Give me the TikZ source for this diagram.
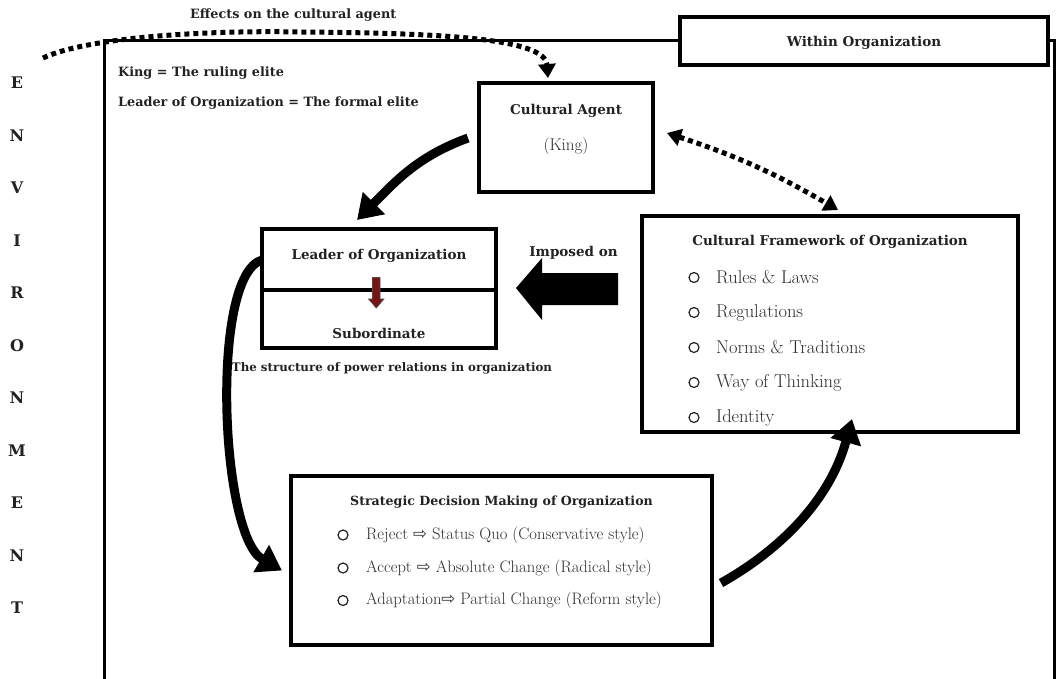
\documentclass[tikz,border=0pt]{standalone}
\usepackage{fontspec}
\setmainfont{DejaVu Serif}
\newfontfamily\lightf{Latin Modern Roman}
\newfontfamily\symf{DejaVu Sans}
\usetikzlibrary{arrows.meta,calc}
\definecolor{txt}{HTML}{222222}
\definecolor{lighttxt}{HTML}{2E2E2E}
\definecolor{darkred}{HTML}{7A1414}
\begin{document}
\begin{tikzpicture}[x=1pt,y=-1pt,
  box/.style={draw=black, line width=3.5pt, fill=white, inner sep=0pt, outer sep=0pt},
  hd/.style={text=txt, font=\bfseries\fontsize{13.5}{16}\selectfont, inner sep=0pt},
  hds/.style={text=txt, font=\bfseries\fontsize{12.8}{15}\selectfont, inner sep=0pt},
  rg/.style={text=lighttxt, font=\lightf\fontsize{18.5}{22}\selectfont, inner sep=0pt, anchor=west},
  rgs/.style={text=lighttxt, font=\lightf\fontsize{16.6}{20}\selectfont, inner sep=0pt, anchor=west},
  bul/.style={circle, draw=txt, line width=1.2pt, minimum size=10pt, inner sep=0pt},
  letter/.style={text=txt, font=\bfseries\fontsize{16}{18}\selectfont, inner sep=0pt},
  bigarrow/.style={line width=9pt, -{Triangle[length=24pt,width=30pt]}},
  dotline/.style={line width=5pt, dash pattern=on 5pt off 4pt},
  dothead/.tip={Triangle[length=14pt,width=17pt]}
]
\useasboundingbox (0,0) rectangle (1057,678);
\fill[white] (0,0) rectangle (1057,678);

% outer frame and title box
\node[box, line width=4pt, minimum width=368pt, minimum height=48pt] (within) at (864,41) {};
\node[hd] (withintxt) at (864,43) {Within Organization};
\draw[line width=3pt] (104,700) -- (104,40) -- (within.west |- 0,40);
\draw[line width=3pt] (within.east |- 0,40) -- (1054,40) -- (1054,700);

% environment letters
\foreach \l [count=\i] in {E,N,V,I,R,O,N,M,E,N,T}
  \node[letter] (env\i) at (17,{83+52.5*(\i-1)}) {\l};

% legend texts
\node[hds, anchor=west] (king) at (118,73) {King = The ruling elite};
\node[hds, anchor=west] (leaderdef) at (118,103) {Leader of Organization = The formal elite};
\node[hds, anchor=west] (effects) at (190,15) {Effects on the cultural agent};

% boxes
\node[box, minimum width=174pt, minimum height=109pt] (agent) at (566,137.5) {};
\node[hd] (agenttitle) at (566,111) {Cultural Agent};
\node[rg, anchor=center, font=\lightf\fontsize{17}{20}\selectfont] (king2) at (566,146) {(King)};

\node[box, minimum width=234pt, minimum height=119pt] (leader) at (379,288.5) {};
\draw[line width=3.5pt] (leader.west |- 0,290) -- (leader.east |- 0,290);
\node[hd] (leadertitle) at (379,256) {Leader of Organization};
\node[hd] (subord) at (379,333) {Subordinate};
\fill[darkred, draw=black!70, line width=0.6pt] (372.5,277.5) -- (380,277.5) -- (380,299) -- (384,299) -- (376.25,308) -- (368.5,299) -- (372.5,299) -- cycle;
\node[hds, font=\bfseries\fontsize{11.8}{14}\selectfont] (structure) at (392,368) {The structure of power relations in organization};

\node[box, minimum width=376pt, minimum height=216pt] (frame) at (830,324) {};
\node[hd] (frametitle) at (830,242) {Cultural Framework of Organization};
\foreach \t [count=\i] in {Rules \& Laws, Regulations, Norms \& Traditions, Way of Thinking, Identity} {
  \node[bul] (fb\i) at (694,{277.5+35*(\i-1)}) {};
  \node[rg] (ft\i) at (716,{277.5+35*(\i-1)}) {\t};
}

\node[box, minimum width=421pt, minimum height=169pt] (strat) at (501.5,560.5) {};
\node[hds, font=\bfseries\fontsize{12.6}{15}\selectfont] (strattitle) at (501.5,502) {Strategic Decision Making of Organization};
\node[bul] (sb1) at (343,535) {};
\node[rgs] (st1) at (366,535) {Reject {\symf ⇨} Status Quo (Conservative style)};
\node[bul] (sb2) at (343,568) {};
\node[rgs] (st2) at (366,568) {Accept {\symf ⇨} Absolute Change (Radical style)};
\node[bul] (sb3) at (343,600.5) {};
\node[rgs] (st3) at (366,600.5) {Adaptation{\symf ⇨} Partial Change (Reform style)};

% imposed on
\node[hd] (imposed) at (573.5,253) {Imposed on};
\fill[black] (516,288) -- (542,258) -- (542,273) -- (618,273) -- (618,305) -- (542,305) -- (542,320) -- cycle;

% connectors
\draw[bigarrow] ($(agent.west)+(-11,0.5)$) to[out=200,in=45] ($(leader.north)+(-22,-9)$);
\draw[bigarrow] ($(leader.west)+(0,-28.5)$) .. controls (210,275) and (220,535) .. ($(strat.west)+(-9,10)$);
\draw[bigarrow] ($(strat.east)+(9,22.5)$) .. controls (780,550) and (830,500) .. ($(frame.south)+(22,-13)$);

\draw[dotline, -dothead] (43,58) .. controls (85,38) and (200,30) .. (300,32) .. controls (440,33) and (545,38) .. ($(agent.north)+(-18,-5)$);
\draw[dotline, dothead-dothead] ($(agent.east)+(14,-4.5)$) to[bend left=6] ($(frame.north)+(8,-6)$);
\end{tikzpicture}
\end{document}
